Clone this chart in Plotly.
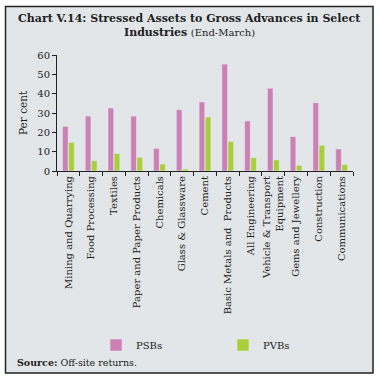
import plotly.graph_objects as go

categories = ["Mining and Quarrying", "Food Processing", "Textiles", "Paper and Paper Products",
              "Chemicals", "Glass & Glassware", "Cement", "Basic Metals and  Products",
              "All Engineering", "Vehicle & Transport<br>Equipment", "Gems and Jewellery",
              "Construction", "Communications"]
psbs = [23.1, 28.4, 32.6, 28.4, 11.7, 31.7, 35.7, 55.3, 25.9, 42.8, 17.8, 35.3, 11.4]
pvbs = [14.8, 5.3, 9.1, 7.1, 3.6, 1.0, 27.9, 15.3, 6.9, 5.7, 2.9, 13.3, 3.4]
y_ticks = [0, 10, 20, 30, 40, 50, 60]

W, H = 379, 381
L, R, T, B = 57, 26, 55, 210
pw, ph = W - L - R, H - T - B

def px(x):
    return (x - L) / pw

def py(y):
    return (H - B - y) / ph

FONT = "DejaVu Serif"

fig = go.Figure()
fig.add_trace(go.Bar(x=categories, y=psbs, name="PSBs", marker_color="#cc80b4"))
fig.add_trace(go.Bar(x=categories, y=pvbs, name="PVBs", marker_color="#a8cf3a"))

fig.update_layout(
    width=W, height=H,
    margin=dict(l=L, r=R, t=T, b=B, autoexpand=False),
    paper_bgcolor="white",
    plot_bgcolor="rgba(0,0,0,0)",
    barmode="group", bargap=0.46, bargroupgap=0.08,
    font=dict(family=FONT, size=10, color="#222"),
    showlegend=True,
    legend=dict(orientation="h", xref="container", yref="container",
                x=96 / W, y=1 - 345 / H, xanchor="left", yanchor="middle",
                entrywidth=82, entrywidthmode="pixels", bgcolor="rgba(0,0,0,0)",
                font=dict(family=FONT, size=10, color="#222"), itemclick=False,
                tracegroupgap=0),
    xaxis=dict(type="category", tickangle=-90, showline=True, linecolor="#222", linewidth=1,
               ticks="outside", ticklen=4, tickcolor="#222", tickson="boundaries",
               tickfont=dict(family=FONT, size=10, color="#222"), showgrid=False),
    yaxis=dict(range=[0, 60], tickvals=y_ticks, showline=True, linecolor="#222", linewidth=1,
               ticks="outside", ticklen=4, tickcolor="#222", showgrid=False, zeroline=False,
               tickfont=dict(family=FONT, size=10, color="#222")),
    shapes=[dict(type="rect", xref="paper", yref="paper",
                 x0=px(5.5), x1=px(373), y0=py(373), y1=py(6.5),
                 fillcolor="#e2e6e8", line=dict(color="#222", width=1.5), layer="below")],
    annotations=[
        dict(text="<b>Chart V.14: Stressed Assets to Gross Advances in Select</b>",
             xref="paper", yref="paper", x=px(189.5), y=py(18), showarrow=False,
             xanchor="center", yanchor="middle", font=dict(family=FONT, size=11, color="#222")),
        dict(text="<b>Industries</b> <span style='font-size:10px'>(End-March)</span>",
             xref="paper", yref="paper", x=px(189.5), y=py(33), showarrow=False,
             xanchor="center", yanchor="middle", font=dict(family=FONT, size=11, color="#222")),
        dict(text="Per cent", xref="paper", yref="paper", x=px(23), y=py(113), showarrow=False,
             textangle=-90, xanchor="center", yanchor="middle",
             font=dict(family=FONT, size=10.5, color="#222")),
        dict(text="<b>Source:</b> Off-site returns.", xref="paper", yref="paper",
             x=px(15), y=py(362), showarrow=False, xanchor="left", yanchor="middle",
             font=dict(family=FONT, size=9.5, color="#222")),
    ],
)

fig.write_html("out.html", config={"displayModeBar": False},
               post_script="document.body.style.margin='0';")
